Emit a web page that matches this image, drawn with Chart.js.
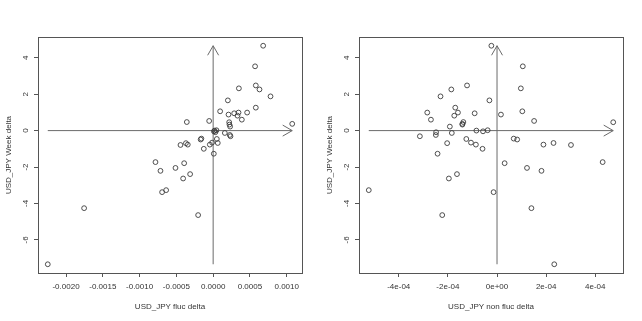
<!DOCTYPE html>
<html>
<head>
<meta charset="utf-8">
<script src="https://cdn.jsdelivr.net/npm/chart.js@4"></script>
<style>
html, body { margin: 0; padding: 0; background: #fff; }
#wrap { width: 642px; height: 321px; display: flex; }
canvas { display: block; }
</style>
</head>
<body>
<div id="wrap">
<canvas id="flucChart" width="321" height="321"></canvas>
<canvas id="nonFlucChart" width="321" height="321"></canvas>
</div>
<script>
// weekly USD_JPY delta (shared y values)
var weekDelta = [4.66, 3.53, 2.48, 2.32, 2.26, 1.88, 1.66, 1.26, 1.06, 0.99,
    0.99, 0.95, 0.88, 0.82, 0.60, 0.53, 0.47, 0.46, 0.37, 0.33,
    0.22, 0.02, 0.00, -0.04, -0.09, -0.13, -0.24, -0.31, -0.44, -0.46,
    -0.49, -0.66, -0.68, -0.69, -0.77, -0.77, -0.79, -1.00, -1.27, -1.73,
    -1.79, -2.05, -2.21, -2.39, -2.63, -3.27, -3.38, -4.26, -4.64, -7.34];

var flucDelta = [0.00068, 0.00057, 0.00058, 0.00035, 0.00063, 0.00078, 0.00020, 0.00058, 0.000095, 0.000345,
    0.000462, 0.000286, 0.000209, 0.000331, 0.00039, -0.000054, -0.000358, 0.000218, 0.001075, 0.000222,
    0.000231, 0.000045, 0.00002, 0.00001, 0.00003, 0.000159, 0.000227, 0.000236, -0.00016, 0.00005,
    -0.00017, -0.000014, 0.000063, -0.00037, -0.000045, -0.000345, -0.000444, -0.000127, 0.000009, -0.000784,
    -0.000394, -0.000512, -0.000716, -0.000313, -0.000408, -0.000639, -0.000694, -0.001754, -0.000204, -0.002248];

var nonFlucDelta = [-0.000023, 0.000105, -0.000122, 0.000097, -0.000186, -0.00023, -0.000031, -0.00017, 0.000103, -0.000284,
    -0.000159, -0.000091, 0.000016, -0.000174, -0.000269, 0.000151, -0.000137, 0.000473, -0.000141, -0.000141,
    -0.000192, -0.000038, -0.000084, -0.000057, -0.000248, -0.000184, -0.000249, -0.000314, 0.000068, -0.000125,
    0.000082, -0.000106, 0.00023, -0.000203, -0.000086, 0.000189, 0.000301, -0.000059, -0.000242, 0.00043,
    0.000031, 0.000122, 0.000181, -0.000163, -0.000196, -0.000522, -0.000014, 0.00014, -0.000223, 0.000233];

var yTicks = [-6, -4, -2, 0, 2, 4];
var flucTicks = [-0.002, -0.0015, -0.001, -0.0005, 0, 0.0005, 0.001];
var flucTickLabels = ["-0.0020", "-0.0015", "-0.0010", "-0.0005", "0.0000", "0.0005", "0.0010"];
var nonFlucTicks = [-0.0004, -0.0002, 0, 0.0002, 0.0004];
var nonFlucTickLabels = ["-4e-04", "-2e-04", "0e+00", "2e-04", "4e-04"];

var FONT = "'Liberation Sans', Arial, sans-serif";
var LINE = '#555';
var TEXT = '#333';

// R style axis range: data range stretched by 4% each side
function rRange(vals) {
    var lo = Math.min.apply(null, vals), hi = Math.max.apply(null, vals);
    var pad = (hi - lo) * 0.04;
    return [lo - pad, hi + pad];
}

function drawArrow(ctx, x0, y0, x1, y1) {
    var len = 11, ang = Math.PI / 6;
    var t = Math.atan2(y1 - y0, x1 - x0);
    ctx.beginPath();
    ctx.moveTo(x0, y0);
    ctx.lineTo(x1, y1);
    ctx.moveTo(x1 - len * Math.cos(t - ang), y1 - len * Math.sin(t - ang));
    ctx.lineTo(x1, y1);
    ctx.lineTo(x1 - len * Math.cos(t + ang), y1 - len * Math.sin(t + ang));
    ctx.stroke();
}

var rPlotPlugin = {
    id: 'rPlot',
    beforeDatasetsDraw: function(chart) {
        var ctx = chart.ctx, a = chart.chartArea;
        var xs = chart.scales.x, ys = chart.scales.y;
        var pts = chart.data.datasets[0].data;
        var xv = pts.map(function(p) { return p.x; });
        var yv = pts.map(function(p) { return p.y; });
        ctx.save();
        ctx.strokeStyle = LINE;
        ctx.lineWidth = 1;
        ctx.strokeRect(Math.round(a.left) + 0.5, Math.round(a.top) + 0.5,
            Math.round(a.right - a.left), Math.round(a.bottom - a.top));

        ctx.strokeStyle = '#6a6a6a';
        var y0 = ys.getPixelForValue(0), x0 = xs.getPixelForValue(0);
        drawArrow(ctx, xs.getPixelForValue(Math.min.apply(null, xv)), y0,
            xs.getPixelForValue(Math.max.apply(null, xv)), y0);
        drawArrow(ctx, x0, ys.getPixelForValue(Math.min.apply(null, yv)),
            x0, ys.getPixelForValue(Math.max.apply(null, yv)));

        // rotated y tick labels, like R's las = 0
        ctx.fillStyle = TEXT;
        ctx.font = '8px ' + FONT;
        ctx.textAlign = 'center';
        ctx.textBaseline = 'middle';
        yTicks.forEach(function(v) {
            ctx.save();
            ctx.translate(26, ys.getPixelForValue(v));
            ctx.rotate(-Math.PI / 2);
            ctx.fillText(String(v), 0, 0);
            ctx.restore();
        });

        // axis titles
        ctx.save();
        ctx.translate(9, (a.top + a.bottom) / 2);
        ctx.rotate(-Math.PI / 2);
        ctx.fillText(chart.options.plugins.rPlot.yTitle, 0, 0);
        ctx.restore();
        ctx.fillText(chart.options.plugins.rPlot.xTitle, (a.left + a.right) / 2, 307);
        ctx.restore();
    }
};

function CreateScatter(canvasId, xVals, yVals, xTicks, xTickLabels, xTitle) {
    var xr = rRange(xVals), yr = rRange(yVals);
    var points = xVals.map(function(x, i) { return { x: x, y: yVals[i] }; });
    new Chart(document.getElementById(canvasId), {
        type: 'scatter',
        data: {
            datasets: [{
                data: points,
                pointStyle: 'circle',
                pointRadius: 2.4,
                borderWidth: 0.9,
                borderColor: '#3c3c3c',
                backgroundColor: 'rgba(0,0,0,0)'
            }]
        },
        options: {
            responsive: false,
            animation: false,
            events: [],
            layout: { padding: { top: 37, right: 19, left: 0, bottom: 0 } },
            plugins: {
                legend: { display: false },
                tooltip: { enabled: false },
                rPlot: { xTitle: xTitle, yTitle: 'USD_JPY Week delta' }
            },
            scales: {
                x: {
                    type: 'linear',
                    min: xr[0],
                    max: xr[1],
                    afterBuildTicks: function(s) { s.ticks = xTicks.map(function(v) { return { value: v }; }); },
                    afterFit: function(s) { s.height = 48; },
                    border: { display: false },
                    grid: { drawOnChartArea: false, drawTicks: true, tickLength: 4, tickColor: LINE, tickWidth: 1 },
                    ticks: {
                        callback: function(v, i) { return xTickLabels[i]; },
                        font: { family: FONT, size: 8 },
                        color: TEXT,
                        padding: 5,
                        maxRotation: 0,
                        autoSkip: false
                    }
                },
                y: {
                    type: 'linear',
                    min: yr[0],
                    max: yr[1],
                    afterBuildTicks: function(s) { s.ticks = yTicks.map(function(v) { return { value: v }; }); },
                    afterFit: function(s) { s.width = 38; },
                    border: { display: false },
                    grid: { drawOnChartArea: false, drawTicks: true, tickLength: 4, tickColor: LINE, tickWidth: 1 },
                    ticks: { display: false }
                }
            }
        },
        plugins: [rPlotPlugin]
    });
}

CreateScatter('flucChart', flucDelta, weekDelta, flucTicks, flucTickLabels, 'USD_JPY fluc delta');
CreateScatter('nonFlucChart', nonFlucDelta, weekDelta, nonFlucTicks, nonFlucTickLabels, 'USD_JPY non fluc delta');
</script>
</body>
</html>
